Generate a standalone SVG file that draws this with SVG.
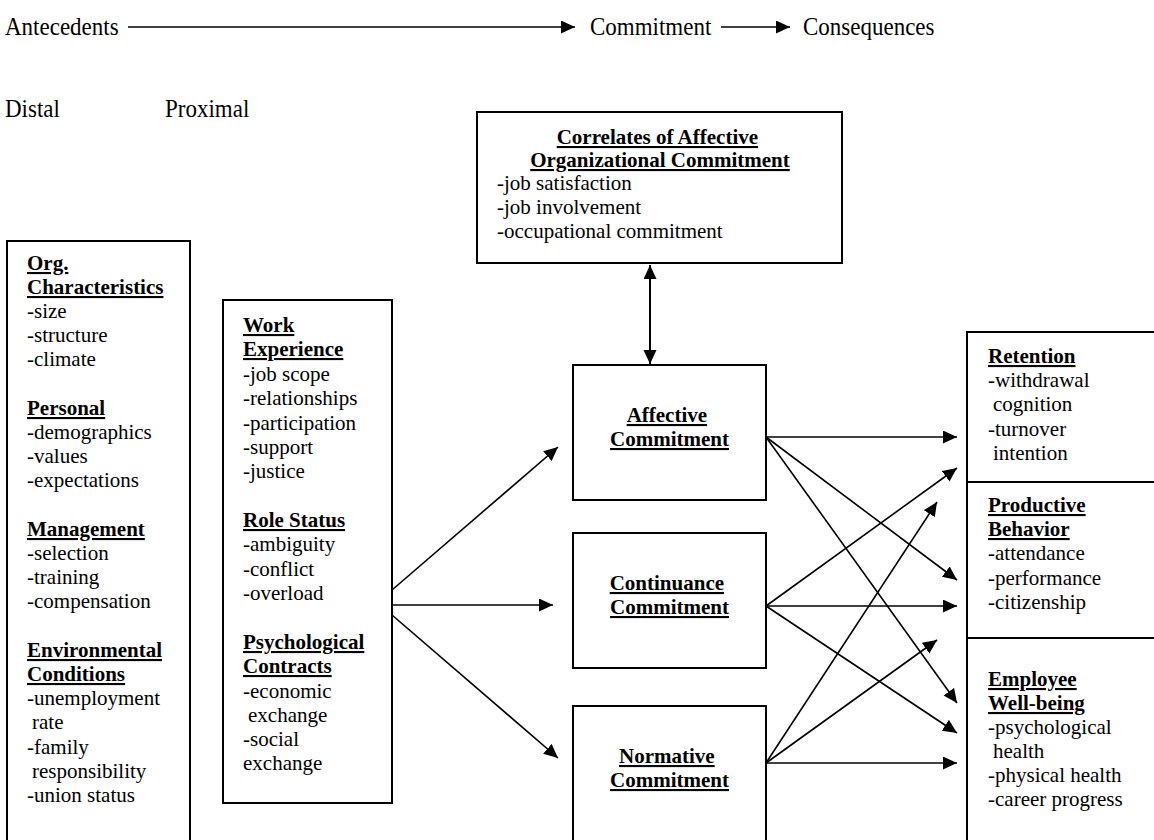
<svg xmlns="http://www.w3.org/2000/svg" width="1154" height="840" viewBox="0 0 1154 840">
<defs>
<marker id="ah" markerUnits="userSpaceOnUse" markerWidth="16" markerHeight="14" refX="14" refY="6.5" orient="auto-start-reverse">
<path d="M0,0 L14,6.5 L0,13 z" fill="#000"/>
</marker>
<style>
.box{fill:#fff;stroke:#000;stroke-width:2}
.t{font-family:"Liberation Serif","Times New Roman",serif;font-size:21px;fill:#000}
.b{font-weight:bold;text-decoration:underline;text-decoration-thickness:2px}
.hd{font-family:"Liberation Serif","Times New Roman",serif;font-size:23px;fill:#000}
.c{stroke:#000;stroke-width:1.6;fill:none;marker-end:url(#ah)}
.cc{stroke:#000;stroke-width:2;fill:none;marker-end:url(#ah);marker-start:url(#ah)}
</style>
</defs>
<rect width="1154" height="840" fill="#fff"/>

<g id="header">
<text class="hd" transform="translate(5,35) scale(1,1.12)">Antecedents</text>
<text class="hd" transform="translate(590,35) scale(1,1.12)">Commitment</text>
<text class="hd" transform="translate(803,35) scale(1,1.12)">Consequences</text>
<text class="hd" transform="translate(5,117) scale(1,1.12)">Distal</text>
<text class="hd" transform="translate(165,117) scale(1,1.12)">Proximal</text>
</g>

<g id="connectors">
<line class="c" x1="128" y1="27" x2="575" y2="27"/>
<line class="c" x1="721" y1="27" x2="790" y2="27"/>
<line class="cc" x1="650" y1="265" x2="650" y2="364"/>
<line class="c" x1="392" y1="590" x2="558" y2="447"/>
<line class="c" x1="392" y1="605" x2="553" y2="605"/>
<line class="c" x1="392" y1="615" x2="558" y2="758"/>
<line class="c" x1="766" y1="437" x2="957" y2="437"/>
<line class="c" x1="766" y1="437" x2="957" y2="580"/>
<line class="c" x1="766" y1="437" x2="957" y2="703"/>
<line class="c" x1="766" y1="606" x2="957" y2="468"/>
<line class="c" x1="766" y1="606" x2="957" y2="606"/>
<line class="c" x1="766" y1="606" x2="957" y2="733"/>
<line class="c" x1="766" y1="763" x2="937" y2="502"/>
<line class="c" x1="766" y1="763" x2="937" y2="640"/>
<line class="c" x1="766" y1="763" x2="957" y2="763"/>
</g>

<g id="distal">
<rect class="box" x="7" y="241" width="183" height="600"/>
<text class="t">
<tspan class="b" x="27" y="270">Org.</tspan>
<tspan class="b" x="27" y="294">Characteristics</tspan>
<tspan x="27" y="318">-size</tspan>
<tspan x="27" y="342">-structure</tspan>
<tspan x="27" y="366">-climate</tspan>
<tspan class="b" x="27" y="415">Personal</tspan>
<tspan x="27" y="439">-demographics</tspan>
<tspan x="27" y="463">-values</tspan>
<tspan x="27" y="487">-expectations</tspan>
<tspan class="b" x="27" y="536">Management</tspan>
<tspan x="27" y="560">-selection</tspan>
<tspan x="27" y="584">-training</tspan>
<tspan x="27" y="608">-compensation</tspan>
<tspan class="b" x="27" y="657">Environmental</tspan>
<tspan class="b" x="27" y="681">Conditions</tspan>
<tspan x="27" y="705">-unemployment</tspan>
<tspan x="32" y="729">rate</tspan>
<tspan x="27" y="754">-family</tspan>
<tspan x="32" y="778">responsibility</tspan>
<tspan x="27" y="802">-union status</tspan>
</text>
</g>

<g id="proximal">
<rect class="box" x="223" y="300" width="169" height="503"/>
<text class="t">
<tspan class="b" x="243" y="332">Work</tspan>
<tspan class="b" x="243" y="356">Experience</tspan>
<tspan x="243" y="381">-job scope</tspan>
<tspan x="243" y="405">-relationships</tspan>
<tspan x="243" y="430">-participation</tspan>
<tspan x="243" y="454">-support</tspan>
<tspan x="243" y="478">-justice</tspan>
<tspan class="b" x="243" y="527">Role Status</tspan>
<tspan x="243" y="551">-ambiguity</tspan>
<tspan x="243" y="576">-conflict</tspan>
<tspan x="243" y="600">-overload</tspan>
<tspan class="b" x="243" y="649">Psychological</tspan>
<tspan class="b" x="243" y="673">Contracts</tspan>
<tspan x="243" y="698">-economic</tspan>
<tspan x="248" y="722">exchange</tspan>
<tspan x="243" y="746">-social</tspan>
<tspan x="243" y="770">exchange</tspan>
</text>
</g>

<g id="correlates">
<rect class="box" x="477" y="112" width="365" height="151"/>
<text class="t" text-anchor="middle">
<tspan class="b" x="660" y="144">Correlates of Affective</tspan>
<tspan class="b" x="660" y="167">Organizational Commitment</tspan>
</text>
<text class="t">
<tspan x="497" y="190">-job satisfaction</tspan>
<tspan x="497" y="214">-job involvement</tspan>
<tspan x="497" y="238">-occupational commitment</tspan>
</text>
</g>

<g id="affective">
<rect class="box" x="573" y="365" width="193" height="135"/>
<text class="t" text-anchor="middle">
<tspan class="b" x="669.5" y="422">Affective</tspan>
<tspan class="b" x="669.5" y="446">Commitment</tspan>
</text>
</g>

<g id="continuance">
<rect class="box" x="573" y="533" width="193" height="135"/>
<text class="t" text-anchor="middle">
<tspan class="b" x="669.5" y="590">Continuance</tspan>
<tspan class="b" x="669.5" y="614">Commitment</tspan>
</text>
</g>

<g id="normative">
<rect class="box" x="573" y="706" width="193" height="135"/>
<text class="t" text-anchor="middle">
<tspan class="b" x="669.5" y="763">Normative</tspan>
<tspan class="b" x="669.5" y="787">Commitment</tspan>
</text>
</g>

<g id="retention">
<rect class="box" x="967" y="332" width="200" height="150"/>
<text class="t">
<tspan class="b" x="988" y="363">Retention</tspan>
<tspan x="988" y="387">-withdrawal</tspan>
<tspan x="993" y="411">cognition</tspan>
<tspan x="988" y="436">-turnover</tspan>
<tspan x="993" y="460">intention</tspan>
</text>
</g>

<g id="productive">
<rect class="box" x="967" y="482" width="200" height="156"/>
<text class="t">
<tspan class="b" x="988" y="512">Productive</tspan>
<tspan class="b" x="988" y="536">Behavior</tspan>
<tspan x="988" y="560">-attendance</tspan>
<tspan x="988" y="585">-performance</tspan>
<tspan x="988" y="609">-citizenship</tspan>
</text>
</g>

<g id="wellbeing">
<rect class="box" x="967" y="638" width="200" height="203"/>
<text class="t">
<tspan class="b" x="988" y="686">Employee</tspan>
<tspan class="b" x="988" y="710">Well-being</tspan>
<tspan x="988" y="734">-psychological</tspan>
<tspan x="993" y="758">health</tspan>
<tspan x="988" y="782">-physical health</tspan>
<tspan x="988" y="806">-career progress</tspan>
</text>
</g>
</svg>
